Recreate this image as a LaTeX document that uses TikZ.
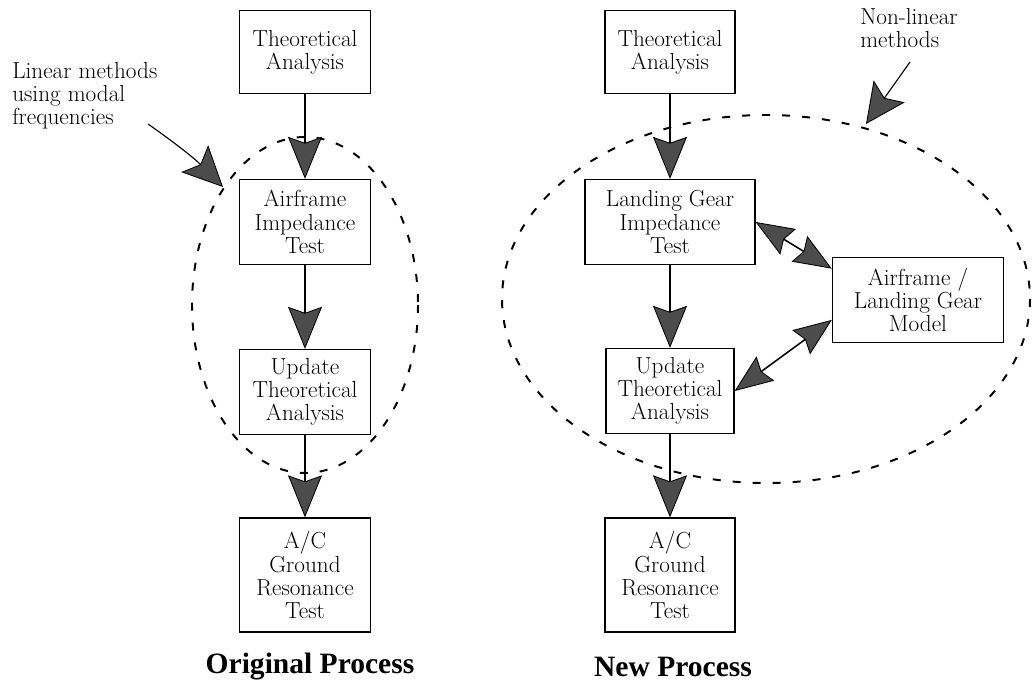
\documentclass[tikz,border=0pt]{standalone}
\usepackage{fontspec}
\newfontfamily\titlefont{Liberation Serif}
\usetikzlibrary{arrows.meta}
\newcommand\boxfont{\fontsize{16.5}{16.5}\selectfont}

\begin{document}
\begin{tikzpicture}[x=0.025cm, y=-0.025cm,
    box/.style={draw, line width=0.9pt, align=center, font=\boxfont, inner sep=2pt},
    flow/.style={line width=2pt, -{Stealth[length=1.05cm, width=0.85cm, inset=0.15cm, fill=gray!60!black, line width=0.6pt]}},
    link/.style={line width=1.1pt, {Stealth[length=0.95cm, width=0.75cm, inset=0.12cm, fill=gray!60!black, line width=0.6pt]}-{Stealth[length=0.95cm, width=0.75cm, inset=0.12cm, fill=gray!60!black, line width=0.6pt]}},
    callout/.style={line width=0.8pt, -{Stealth[length=1cm, width=0.95cm, inset=0.2cm, fill=gray!60!black, line width=0.6pt]}},
    zone/.style={dash pattern=on 0.2cm off 0.3cm, line width=1.4pt},
    note/.style={font=\boxfont, align=left, inner sep=0pt},
    caption/.style={font=\titlefont\bfseries\fontsize{21}{24}\selectfont}
]
    \useasboundingbox (0,0) rectangle (1032,696);

    % Dashed regions
    \draw[zone] (305,305) ellipse [x radius=113, y radius=168];
    \draw[zone] (766,299) ellipse [x radius=264, y radius=184];

    % Original process (left column)
    \node[box, minimum width=3.275cm, minimum height=2.075cm] (ta1) at (305,52) {Theoretical\\Analysis};
    \node[box, minimum width=3.275cm, minimum height=2.125cm] (ait) at (305,222) {Airframe\\Impedance\\Test};
    \node[box, minimum width=3.275cm, minimum height=2.125cm] (uta1) at (305,392) {Update\\Theoretical\\Analysis};
    \node[box, minimum width=3.275cm, minimum height=2.85cm] (gr1) at (305,575) {A/C\\Ground\\Resonance\\Test};

    \draw[flow] (ta1) -- (ait);
    \draw[flow] (ait) -- (uta1);
    \draw[flow] (uta1) -- (gr1);

    % New process (right column)
    \node[box, minimum width=3.25cm, minimum height=2.075cm] (ta2) at (670,52) {Theoretical\\Analysis};
    \node[box, minimum width=4.25cm, minimum height=2.125cm] (lgit) at (670,222) {Landing Gear\\Impedance\\Test};
    \node[box, minimum width=3.2cm, minimum height=2.125cm] (uta2) at (670,391) {Update\\Theoretical\\Analysis};
    \node[box, minimum width=3.25cm, minimum height=2.85cm] (gr2) at (670,575) {A/C\\Ground\\Resonance\\Test};
    \node[box, minimum width=4.275cm, minimum height=2.125cm] (model) at (918,300) {Airframe /\\Landing Gear\\Model};

    \draw[flow] (ta2) -- (lgit);
    \draw[flow] (lgit) -- (uta2);
    \draw[flow] (uta2) -- (gr2);
    \draw[link] (lgit.east) -- (model.160);
    \draw[link] (uta2.east) -- (model.193);

    % Callouts
    \node[note, anchor=north west] (linear) at (12,62) {Linear methods\\using modal\\frequencies};
    \coordinate (linear from) at (148,124);
    \coordinate (linear tip) at (223,187);
    \draw[callout] (linear from) to[bend left=5] (linear tip);

    \node[note, anchor=north west] (nonlinear) at (860,8) {Non-linear\\methods};
    \coordinate (nonlinear from) at (910,62);
    \coordinate (nonlinear tip) at (866,124);
    \draw[callout] (nonlinear from) -- (nonlinear tip);

    % Captions
    \node[caption] (orig) at (310,667) {Original Process};
    \node[caption] (new) at (673,667) {New Process};
\end{tikzpicture}
\end{document}
